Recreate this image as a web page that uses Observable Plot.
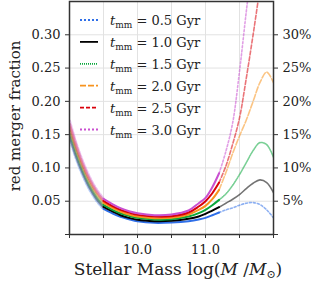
<!DOCTYPE html>
<html><head><meta charset="utf-8">
<script src="https://cdn.jsdelivr.net/npm/d3@7"></script>
<script src="https://cdn.jsdelivr.net/npm/@observablehq/plot@0.6"></script>
<style>
body{margin:0;background:#fff;}
#chart{position:relative;width:315px;height:282px;overflow:hidden;}
</style></head><body><div id="chart"></div>
<script>
// stellar mass grid log(M/Msun)
const masses = [9.0, 9.1, 9.2, 9.3, 9.4, 9.5, 9.625, 9.75, 9.875, 10.0, 10.25, 10.5, 10.75, 10.9, 11.0, 11.1, 11.2, 11.3, 11.4, 11.5, 11.6, 11.7, 11.8, 11.9, 12.0];
// red merger fraction for each merger timescale
const frac05 = [0.1455, 0.114, 0.088, 0.067, 0.051, 0.0385, 0.032, 0.0265, 0.023, 0.020, 0.0175, 0.018, 0.020, 0.0225, 0.025, 0.029, 0.033, 0.037, 0.040, 0.044, 0.047, 0.048, 0.045, 0.037, 0.025];
const frac10 = [0.1505, 0.118, 0.092, 0.0705, 0.054, 0.0415, 0.035, 0.029, 0.025, 0.022, 0.020, 0.0205, 0.0235, 0.027, 0.031, 0.036, 0.041, 0.047, 0.053, 0.060, 0.069, 0.077, 0.082, 0.078, 0.063];
const frac15 = [0.1555, 0.123, 0.096, 0.074, 0.057, 0.0445, 0.0375, 0.032, 0.028, 0.025, 0.0225, 0.023, 0.027, 0.032, 0.037, 0.044, 0.052, 0.061, 0.074, 0.090, 0.108, 0.126, 0.138, 0.135, 0.116];
const frac20 = [0.1605, 0.127, 0.100, 0.078, 0.0605, 0.0475, 0.0405, 0.0345, 0.030, 0.027, 0.0245, 0.025, 0.030, 0.037, 0.043, 0.053, 0.067, 0.093, 0.122, 0.148, 0.172, 0.200, 0.228, 0.244, 0.228];
const frac25 = [0.1655, 0.132, 0.104, 0.0815, 0.064, 0.0505, 0.043, 0.037, 0.033, 0.0295, 0.027, 0.0275, 0.033, 0.042, 0.050, 0.062, 0.078, 0.103, 0.136, 0.175, 0.235, 0.300, 0.370, 0.44, 0.51];
const frac30 = [0.1705, 0.136, 0.108, 0.085, 0.067, 0.0535, 0.046, 0.0395, 0.035, 0.032, 0.029, 0.030, 0.036, 0.047, 0.055, 0.071, 0.092, 0.125, 0.168, 0.245, 0.335, 0.42, 0.50, 0.58, 0.66];

const seriesValues = [frac05, frac10, frac15, frac20, frac25, frac30];
const seriesLabels = ["0.5", "1.0", "1.5", "2.0", "2.5", "3.0"];
const seriesColors = ["#2f6fe8", "#000000", "#0aa83c", "#f7931e", "#d9000a", "#c94fd0"];
const seriesDash = ["2,2", null, "1,1", "6,2", "4,2", "2,2"];

// segment limits
const solidFrom = 9.5, solidTo = 11.2;

const yTicks = [0, 0.05, 0.10, 0.15, 0.20, 0.25, 0.30];
const yTickLabels = ["", "0.05", "0.10", "0.15", "0.20", "0.25", "0.30"];
const yTickLabelsRight = ["", "5%", "10%", "15%", "20%", "25%", "30%"];
const xTicks = [9.0, 9.5, 10.0, 10.5, 11.0, 11.5, 12.0];
const xTickLabels = ["", "", "10.0", "", "11.0", "", ""];

const font = "DejaVu Serif";

const rows = [];
seriesValues.forEach((vals, s) => masses.forEach((m, i) => rows.push({m, f: vals[i], s})));

const yLeftMap = new Map(yTicks.map((t, i) => [t, yTickLabels[i]]));
const yRightMap = new Map(yTicks.map((t, i) => [t, yTickLabelsRight[i]]));
const xMap = new Map(xTicks.map((t, i) => [t, xTickLabels[i]]));

const lineMarks = [];
seriesValues.forEach((vals, s) => {
  const d = rows.filter(r => r.s === s);
  lineMarks.push(Plot.line(d.filter(r => r.m <= solidFrom), {x: "m", y: "f", stroke: seriesColors[s], strokeWidth: 3, strokeOpacity: 0.35, strokeDasharray: seriesDash[s] || undefined, curve: "catmull-rom", clip: true}));
});
seriesValues.forEach((vals, s) => {
  const d = rows.filter(r => r.s === s);
  lineMarks.push(Plot.line(d.filter(r => r.m >= solidTo), {x: "m", y: "f", stroke: seriesColors[s], strokeWidth: 1.6, strokeOpacity: 0.55, strokeDasharray: seriesDash[s] || undefined, curve: "catmull-rom", clip: true}));
});
seriesValues.forEach((vals, s) => {
  const d = rows.filter(r => r.s === s);
  lineMarks.push(Plot.line(d.filter(r => r.m >= solidFrom && r.m <= solidTo), {x: "m", y: "f", stroke: seriesColors[s], strokeWidth: 2, curve: "catmull-rom", clip: true}));
});

const chart = Plot.plot({
  width: 315, height: 282,
  marginLeft: 69, marginRight: 42, marginTop: 1, marginBottom: 48,
  style: {fontFamily: font, fontSize: "13px", color: "#222", background: "#fff"},
  x: {domain: [9, 12]},
  y: {domain: [0, 0.35]},
  marks: [
    Plot.gridX(xTicks.slice(1, -1), {stroke: "#e2e2e2", strokeOpacity: 1, strokeWidth: 1}),
    Plot.gridY(yTicks.slice(1), {stroke: "#e2e2e2", strokeOpacity: 1, strokeWidth: 1}),
    ...lineMarks,
    Plot.frame({stroke: "#333", strokeWidth: 1.5}),
    Plot.axisY(yTicks, {anchor: "left", tickSize: 4, tickPadding: 5, tickFormat: d => yLeftMap.get(d), label: null, stroke: "#333"}),
    Plot.axisY(yTicks, {anchor: "right", tickSize: 4, tickPadding: 5, tickFormat: d => yRightMap.get(d), label: null, stroke: "#333"}),
    Plot.axisX(xTicks, {anchor: "bottom", tickSize: 4, tickPadding: 6, tickFormat: d => xMap.get(d), label: null, stroke: "#333"})
  ]
});
document.getElementById("chart").appendChild(chart);

const svg = d3.select(chart);
// x label
const xl = svg.append("text").attr("x", 178).attr("y", 275).attr("text-anchor", "middle")
  .attr("font-family", font).attr("font-size", 17).attr("fill", "#222");
xl.append("tspan").text("Stellar Mass log(");
xl.append("tspan").attr("font-style", "italic").text("M");
xl.append("tspan").text(" /");
xl.append("tspan").attr("font-style", "italic").text("M");
xl.append("tspan").attr("font-size", 11).attr("dy", 3).text("⊙");
xl.append("tspan").attr("dy", -3).text(")");
// y label
svg.append("text").attr("transform", "translate(20,116) rotate(-90)").attr("text-anchor", "middle")
  .attr("font-family", font).attr("font-size", 15).attr("fill", "#222").text("red merger fraction");
// legend
const lg = svg.append("g");
seriesLabels.forEach((lab, s) => {
  const cy = 20 + s * 21.9;
  lg.append("line").attr("x1", 80).attr("x2", 98).attr("y1", cy).attr("y2", cy)
    .attr("stroke", seriesColors[s]).attr("stroke-width", 1.8)
    .attr("stroke-dasharray", seriesDash[s] || null);
  const t = lg.append("text").attr("x", 110).attr("y", cy + 5).attr("text-anchor", "start")
    .attr("font-family", font).attr("font-size", 13).attr("fill", "#222");
  t.append("tspan").attr("font-style", "italic").text("t");
  t.append("tspan").attr("font-size", 9).attr("dy", 3).text("mm");
  t.append("tspan").attr("dy", -3).text(" = " + lab + " Gyr");
});
</script></body></html>
